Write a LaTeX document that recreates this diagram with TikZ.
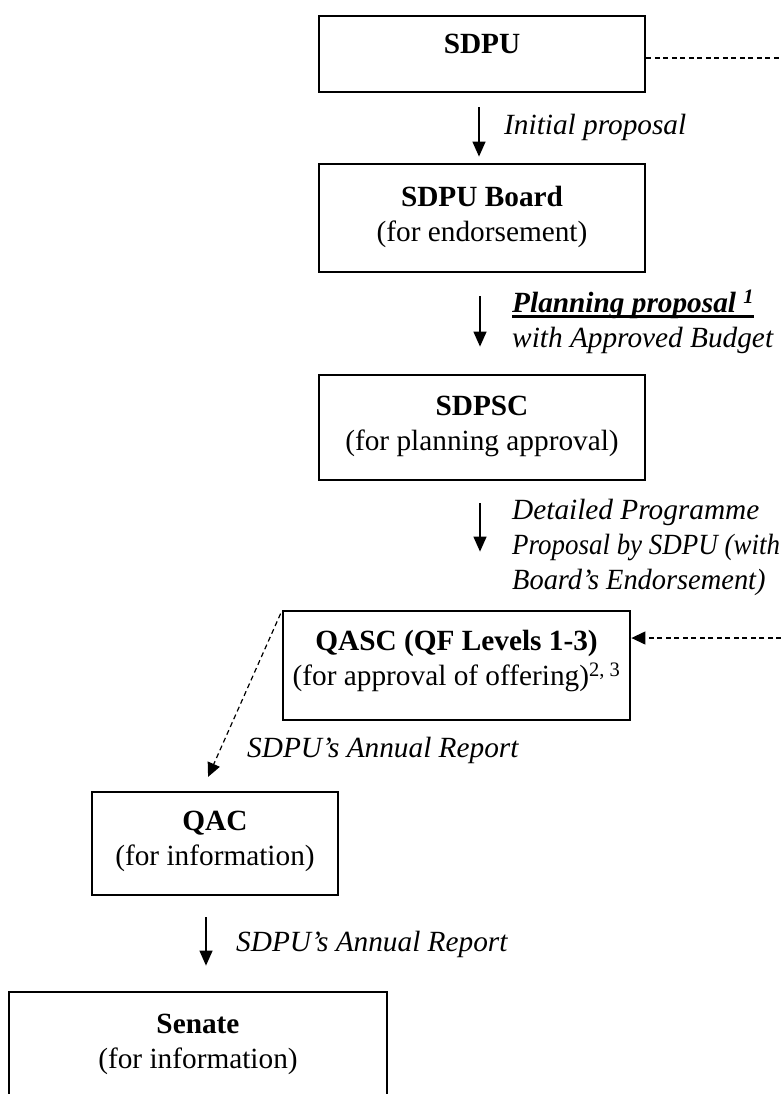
\documentclass[tikz,border=0pt]{standalone}
\usepackage{fontspec}
\setmainfont{Liberation Serif}
\usetikzlibrary{arrows.meta}
\newcommand{\mythickul}[1]{\setbox0\hbox{#1}\rlap{\rule[-5pt]{\wd0}{2.4pt}}\box0}
\begin{document}
\begin{tikzpicture}[x=1pt,y=-1pt,
  box/.style={draw, line width=2.8pt, inner sep=0pt},
  txt/.style={align=center, font=\fontsize{29.3}{35}\selectfont, inner sep=0pt},
  lbl/.style={align=left, anchor=west, font=\fontsize{29.3}{35}\selectfont\itshape, inner sep=0pt},
  arr/.style={line width=1.3pt, -{Triangle[length=15pt,width=13pt]}},
  darr/.style={line width=1.2pt, dash pattern=on 5pt off 3.5pt, -{Triangle[length=14pt,width=13pt]}},
  dline/.style={line width=1.2pt, dash pattern=on 5pt off 3.5pt}]
\clip (0,0) rectangle (781,1094);
\fill[white] (0,0) rectangle (781,1094);
% boxes
\node[box, minimum width=326pt, minimum height=76pt] (sdpu) at (482,54) {};
\node[txt] (sdput) at (482,44) {\textbf{SDPU}};
\node[box, minimum width=326pt, minimum height=108pt] (board) at (482,218) {};
\node[txt] (boardt) at (482,217) {\textbf{SDPU Board}\\(for endorsement)};
\node[box, minimum width=326pt, minimum height=105pt] (sdpsc) at (482,427.5) {};
\node[txt] (sdpsct) at (482,426) {\textbf{SDPSC}\\(for planning approval)};
\node[box, minimum width=347pt, minimum height=109pt] (qasc) at (456.5,665.5) {};
\node[txt] (qasct) at (456.5,661) {\textbf{QASC (QF Levels 1-3)}\\(for approval of offering)\textsuperscript{2, 3}};
\node[box, minimum width=246pt, minimum height=103pt] (qac) at (215,843.5) {};
\node[txt] (qact) at (215,841) {\textbf{QAC}\\(for information)};
\node[box, minimum width=378pt, minimum height=138pt] (senate) at (198,1061) {};
\node[txt] (senatet) at (198,1044) {\textbf{Senate}\\(for information)};
% labels
\node[lbl] (l1) at (504,127) {Initial proposal};
\node[lbl] (l2) at (512,322) {\mythickul{\textbf{Planning proposal \textsuperscript{1}}}\\with Approved Budget};
\node[lbl] (l3) at (512,547) {Detailed Programme\\\scalebox{0.92}[1]{Proposal by SDPU (with}\\\scalebox{0.97}[1]{Board's Endorsement)}};
\node[lbl] (l4) at (247,750) {SDPU's Annual Report};
\node[lbl] (l5) at (236,944) {SDPU's Annual Report};
% free ends
\coordinate (e1) at (781,58);
\coordinate (e2) at (781,638);
% connectors
\draw[arr, shorten <=14pt, shorten >=6pt] ([xshift=-3pt]sdpu.south) -- ([xshift=-3pt]board.north);
\draw[arr, shorten <=23pt, shorten >=27pt] ([xshift=-2pt]board.south) -- ([xshift=-2pt]sdpsc.north);
\draw[arr, shorten <=22pt, shorten >=58pt] ([xshift=-2pt]sdpsc.south) -- ([xshift=-2pt]sdpsc.south |- qasc.north);
\draw[arr, shorten <=21pt, shorten >=25pt] ([xshift=-9pt]qac.south) -- ([xshift=-9pt]qac.south |- senate.north);
\draw[dline] ([yshift=-4pt]sdpu.east) -- (e1);
\draw[darr] (e2) -- (e2 -| qasc.east);
\draw[darr, shorten >=15pt] ([xshift=-1pt,yshift=-4pt]qasc.north west) -- ([xshift=-13pt]qac.north);
\end{tikzpicture}
\end{document}
